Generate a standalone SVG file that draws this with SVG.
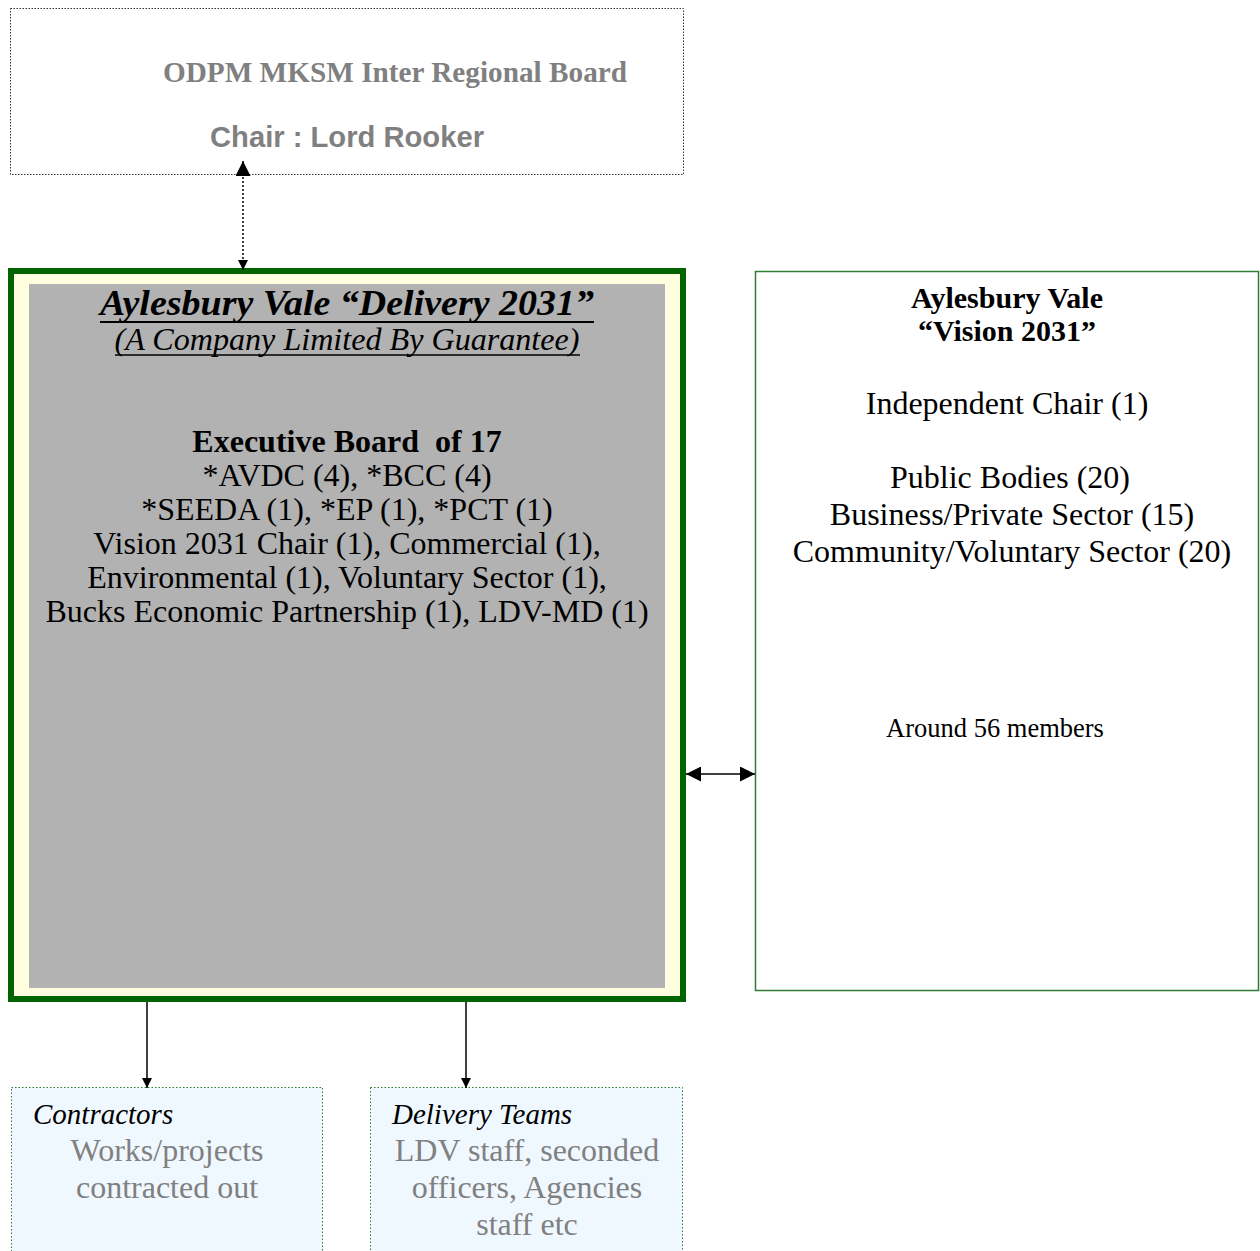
<svg xmlns="http://www.w3.org/2000/svg" width="1260" height="1251" viewBox="0 0 1260 1251">
<defs>
<style>
.serif{font-family:"Liberation Serif","Times New Roman",serif}
.sans{font-family:"Liberation Sans",Arial,sans-serif}
.gray{fill:#808080}
.blk{fill:#000}
.c{text-anchor:middle}
.body{font-size:32px}
.conn{stroke:#000;stroke-width:1.5;fill:none}
</style>
<marker id="ah" viewBox="0 0 10 10" refX="10" refY="5" markerWidth="10" markerHeight="10" markerUnits="userSpaceOnUse" orient="auto-start-reverse">
<path d="M0,0 L10,5 L0,10 Z" fill="#000"/>
</marker>
<marker id="ahL" viewBox="0 0 10 10" refX="10" refY="5" markerWidth="15" markerHeight="15" markerUnits="userSpaceOnUse" orient="auto-start-reverse">
<path d="M0,0 L10,5 L0,10 Z" fill="#000"/>
</marker>
</defs>
<rect width="1260" height="1251" fill="#fff"/>

<g id="node-odpm">
<rect x="10.5" y="8.5" width="673" height="166" fill="#fff" stroke="#333" stroke-width="1" stroke-dasharray="1.5,1.5"/>
<text class="serif gray" x="163" y="82" font-size="29" font-weight="bold" textLength="464" lengthAdjust="spacingAndGlyphs">ODPM MKSM Inter Regional Board</text>
<text class="sans gray" x="210" y="147" font-size="29" font-weight="bold" textLength="274" lengthAdjust="spacingAndGlyphs">Chair : Lord Rooker</text>
</g>

<g id="node-delivery">
<rect x="11" y="271" width="672" height="728" fill="#FFFFE0" stroke="#006400" stroke-width="6"/>
<rect x="29" y="284" width="636" height="704" fill="#B2B2B2"/>
<text class="serif blk c" x="347" y="315" font-size="36" font-style="italic" font-weight="bold" textLength="494" lengthAdjust="spacingAndGlyphs">Aylesbury Vale “Delivery 2031”</text>
<line x1="100" y1="322" x2="594" y2="322" stroke="#000" stroke-width="2"/>
<text class="serif blk c" x="347" y="350" font-size="32" font-style="italic" textLength="465" lengthAdjust="spacingAndGlyphs">(A Company Limited By Guarantee)</text>
<line x1="115" y1="355" x2="580" y2="355" stroke="#000" stroke-width="1.5"/>
<text class="serif blk c body" x="347" y="452" font-weight="bold" xml:space="preserve">Executive Board  of 17</text>
<text class="serif blk c body" x="347" y="486">*AVDC (4), *BCC (4)</text>
<text class="serif blk c body" x="347" y="520">*SEEDA (1), *EP (1), *PCT (1)</text>
<text class="serif blk c body" x="347" y="554">Vision 2031 Chair (1), Commercial (1),</text>
<text class="serif blk c body" x="347" y="588">Environmental (1), Voluntary Sector (1),</text>
<text class="serif blk c body" x="347" y="622">Bucks Economic Partnership (1), LDV-MD (1)</text>
</g>

<g id="node-vision">
<rect x="755.5" y="271.5" width="503" height="719" fill="#fff" stroke="#2E7D32" stroke-width="1.5"/>
<text class="serif blk c" x="1007" y="308" font-size="30" font-weight="bold">Aylesbury Vale</text>
<text class="serif blk c" x="1007" y="341" font-size="30" font-weight="bold">“Vision 2031”</text>
<text class="serif blk c body" x="1007" y="414">Independent Chair (1)</text>
<text class="serif blk c body" x="1010" y="488">Public Bodies (20)</text>
<text class="serif blk c body" x="1012" y="525">Business/Private Sector (15)</text>
<text class="serif blk c body" x="1012" y="562">Community/Voluntary Sector (20)</text>
<text class="serif blk c" x="995" y="737" font-size="26.5">Around 56 members</text>
</g>

<g id="node-contractors">
<rect x="11.5" y="1087.5" width="311" height="170" fill="#F0F8FF" stroke="#2E7D32" stroke-width="1" stroke-dasharray="1.5,2"/>
<text class="serif blk" x="33" y="1124" font-size="29" font-style="italic">Contractors</text>
<text class="serif gray c body" x="167" y="1161">Works/projects</text>
<text class="serif gray c body" x="167" y="1198">contracted out</text>
</g>

<g id="node-teams">
<rect x="370.5" y="1087.5" width="312" height="170" fill="#F0F8FF" stroke="#2E7D32" stroke-width="1" stroke-dasharray="1.5,2"/>
<text class="serif blk" x="392" y="1124" font-size="29" font-style="italic">Delivery Teams</text>
<text class="serif gray c body" x="527" y="1161">LDV staff, seconded</text>
<text class="serif gray c body" x="527" y="1198">officers, Agencies</text>
<text class="serif gray c body" x="527" y="1235">staff etc</text>
</g>

<g id="connectors">
<line x1="243" y1="161" x2="243" y2="270" stroke="#000" stroke-width="1.5" stroke-dasharray="2,2" marker-start="url(#ahL)" marker-end="url(#ah)"/>
<line class="conn" x1="686" y1="774" x2="755" y2="774" marker-start="url(#ahL)" marker-end="url(#ahL)"/>
<line class="conn" x1="147" y1="1002" x2="147" y2="1088" marker-end="url(#ah)"/>
<line class="conn" x1="466" y1="1002" x2="466" y2="1088" marker-end="url(#ah)"/>
</g>
</svg>
